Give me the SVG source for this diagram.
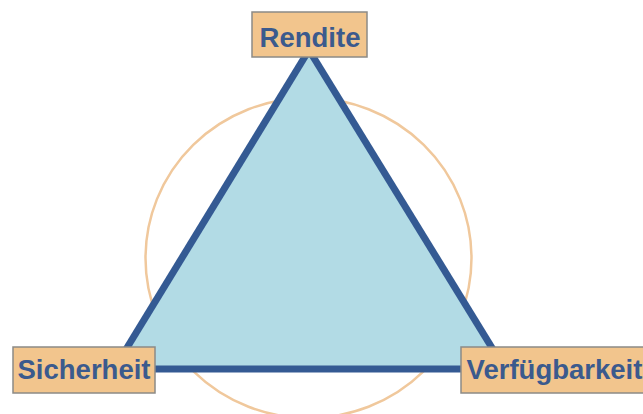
<svg xmlns="http://www.w3.org/2000/svg" width="643" height="414" viewBox="0 0 643 414">
<style>
.box{fill:#f2c58d;stroke:#8c8a86;stroke-width:1.5}
.lbl{font-family:"Liberation Sans",Arial,sans-serif;font-weight:bold;font-size:27.5px;fill:#3b5a8d;text-anchor:middle}
.edge{stroke:#345a93;stroke-width:7;fill:none}
</style>
<rect width="643" height="414" fill="#ffffff"/>
<ellipse cx="308.5" cy="258" rx="163" ry="160" fill="none" stroke="#f0c89c" stroke-width="2.5"/>
<g id="connectors">
<polygon points="309,50 114,369 505,369" fill="#b2dbe5" stroke="none"/>
<line class="edge" x1="309" y1="50" x2="114" y2="369"/>
<line class="edge" x1="309" y1="50" x2="505" y2="369"/>
<line class="edge" x1="114" y1="369" x2="505" y2="369"/>
</g>
<g id="rendite">
<rect class="box" x="252" y="12" width="115" height="45"/>
<text class="lbl" x="310" y="47">Rendite</text>
</g>
<g id="sicherheit">
<rect class="box" x="13" y="347" width="142" height="46"/>
<text class="lbl" x="84" y="379">Sicherheit</text>
</g>
<g id="verfuegbarkeit">
<rect class="box" x="461" y="347" width="200" height="46"/>
<text class="lbl" x="554.5" y="379">Verfügbarkeit</text>
</g>
</svg>
